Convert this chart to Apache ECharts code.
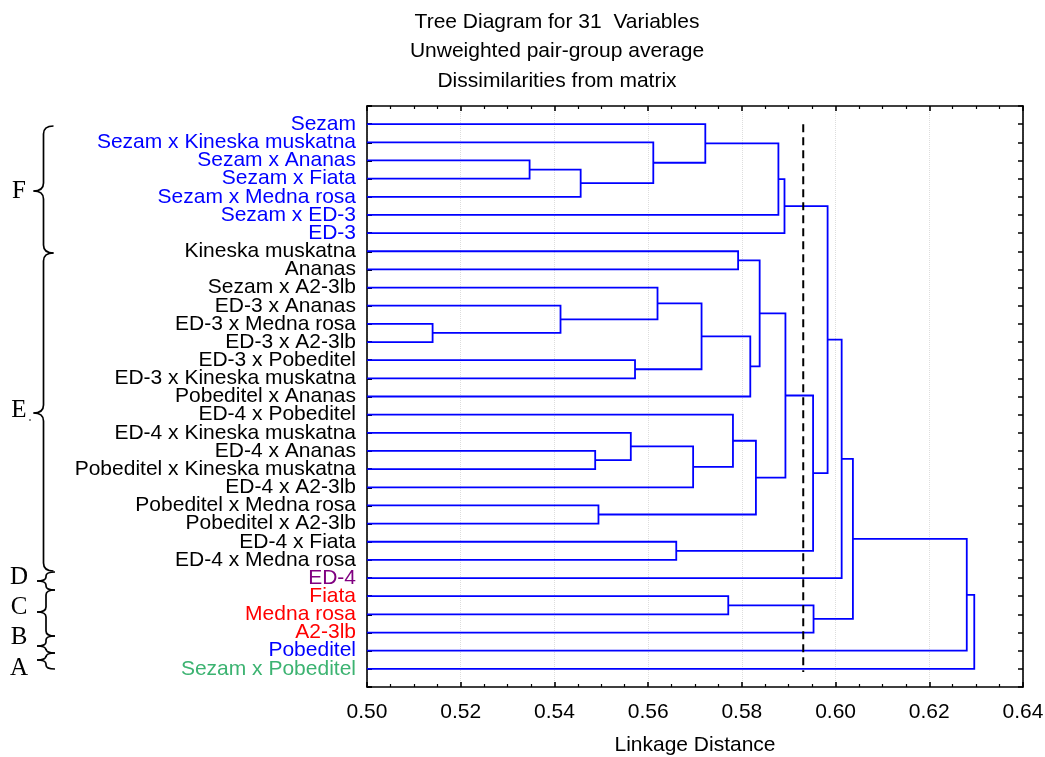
<!DOCTYPE html>
<html>
<head>
<meta charset="utf-8">
<script src="https://cdn.jsdelivr.net/npm/echarts@6.0.0/dist/echarts.min.js"></script>
<style>
  html, body { margin: 0; padding: 0; background: #fff; }
  #chart { width: 1045px; height: 757px; }
</style>
</head>
<body>
<div id="chart"></div>
<script>
// Leaves of the dendrogram, top to bottom
const leafNames = [
  'Sezam', 'Sezam x Kineska muskatna', 'Sezam x Ananas', 'Sezam x Fiata',
  'Sezam x Medna rosa', 'Sezam x ED-3', 'ED-3', 'Kineska muskatna', 'Ananas',
  'Sezam x A2-3lb', 'ED-3 x Ananas', 'ED-3 x Medna rosa', 'ED-3 x A2-3lb',
  'ED-3 x Pobeditel', 'ED-3 x Kineska muskatna', 'Pobeditel x Ananas',
  'ED-4 x Pobeditel', 'ED-4 x Kineska muskatna', 'ED-4 x Ananas',
  'Pobeditel x Kineska muskatna', 'ED-4 x A2-3lb', 'Pobeditel x Medna rosa',
  'Pobeditel x A2-3lb', 'ED-4 x Fiata', 'ED-4 x Medna rosa', 'ED-4', 'Fiata',
  'Medna rosa', 'A2-3lb', 'Pobeditel', 'Sezam x Pobeditel'
];

// Group letter of each leaf
const leafGroups = [
  'F', 'F', 'F', 'F', 'F', 'F', 'F',
  'E', 'E', 'E', 'E', 'E', 'E', 'E', 'E', 'E', 'E', 'E', 'E', 'E', 'E', 'E', 'E', 'E', 'E',
  'D', 'C', 'C', 'C', 'B', 'A'
];

// Agglomeration steps: cluster ids 0..30 are leaves, id 31 + k is the k-th merge
const mergeA = [11, 2, 10, 32, 18, 21, 17, 13, 1, 9, 23, 37, 40, 0, 26,
                16, 7, 43, 46, 47, 44, 51, 50, 53, 45, 52, 56, 57, 58, 59];
const mergeB = [12, 3, 31, 4, 19, 22, 35, 14, 34, 33, 24, 20, 38, 39, 27,
                42, 8, 15, 36, 48, 5, 6, 49, 41, 28, 54, 25, 55, 29, 30];
const mergeHeight = [0.5140, 0.5347, 0.5413, 0.5456, 0.5487, 0.5494, 0.5563, 0.5572,
                     0.5611, 0.5620, 0.5660, 0.5696, 0.5714, 0.5722, 0.5771, 0.5781,
                     0.5792, 0.5818, 0.5830, 0.5838, 0.5878, 0.5891, 0.5893, 0.5952,
                     0.5953, 0.5983, 0.6013, 0.6037, 0.6280, 0.6296];

// Cut level drawn as a dashed reference line
const cutLevel = 0.5931;

// Axis ticks
const distMin = 0.50, distMax = 0.64, distStep = 0.02;

const groupColors = { F: '#0000ff', E: '#000000', D: '#800080', C: '#ff0000', B: '#0000ff', A: '#3cb371' };

// Position of every cluster: leaves sit at 1..31, merged clusters at their children's mid-point
const nodeX = leafNames.map(() => distMin);
const nodeY = leafNames.map((_, i) => i + 1);
const links = [];
mergeA.forEach((a, k) => {
  const b = mergeB[k], h = mergeHeight[k];
  links.push([nodeX[a], nodeY[a], nodeX[b], nodeY[b], h]);
  nodeX.push(h);
  nodeY.push((nodeY[a] + nodeY[b]) / 2);
});

const FONT = "'Liberation Sans', Arial, sans-serif";
const SERIF = "'Liberation Serif', 'Times New Roman', serif";

// Group braces down the left margin
const braces = [
  { letter: 'F', top: 126, bottom: 253, tip: 191, textY: 191, x: 43.5, w: 10, r: 8 },
  { letter: 'E', top: 253, bottom: 571, tip: 413, textY: 410, x: 43.5, w: 10, r: 8, dot: true },
  { letter: 'D', top: 572, bottom: 590, tip: 581, textY: 577, x: 46, w: 9, r: 4 },
  { letter: 'C', top: 590, bottom: 636, tip: 612, textY: 607, x: 46, w: 9, r: 5 },
  { letter: 'B', top: 636, bottom: 653, tip: 646, textY: 637, x: 46, w: 9, r: 4 },
  { letter: 'A', top: 653, bottom: 669, tip: 660, textY: 668, x: 46, w: 9, r: 4 }
];

function braceElements(b) {
  const st = { stroke: '#000', lineWidth: 1.7, fill: null };
  const x = b.x, w = b.w, r = b.r;
  const els = [
    { type: 'bezierCurve', shape: { x1: x + w, y1: b.top, cpx1: x, cpy1: b.top, x2: x, y2: b.top + r }, style: st },
    { type: 'line', shape: { x1: x, y1: b.top + r, x2: x, y2: b.tip - r }, style: st },
    { type: 'bezierCurve', shape: { x1: x, y1: b.tip - r, cpx1: x, cpy1: b.tip, x2: x - w, y2: b.tip }, style: st },
    { type: 'bezierCurve', shape: { x1: x - w, y1: b.tip, cpx1: x, cpy1: b.tip, x2: x, y2: b.tip + r }, style: st },
    { type: 'line', shape: { x1: x, y1: b.tip + r, x2: x, y2: b.bottom - r }, style: st },
    { type: 'bezierCurve', shape: { x1: x, y1: b.bottom - r, cpx1: x, cpy1: b.bottom, x2: x + w, y2: b.bottom }, style: st },
    { type: 'text', x: 19, y: b.textY, style: { text: b.letter, font: '25px ' + SERIF, fill: '#000', align: 'center', verticalAlign: 'middle' } }
  ];
  if (b.dot) {
    els.push({ type: 'circle', shape: { cx: 30, cy: b.textY + 10, r: 0.8 }, style: { fill: '#000' } });
  }
  return els;
}

const titleLines = ['Tree Diagram for 31  Variables', 'Unweighted pair-group average', 'Dissimilarities from matrix'];

const graphics = [];
titleLines.forEach((t, i) => {
  graphics.push({
    type: 'text', x: 557, y: 22 + i * 29.5,
    style: { text: t, font: '21px ' + FONT, fill: '#000', align: 'center', verticalAlign: 'middle' }
  });
});
braces.forEach(b => braceElements(b).forEach(e => graphics.push(e)));

const chart = echarts.init(document.getElementById('chart'), null, { renderer: 'canvas' });

const axisLineStyle = { color: '#000', width: 1.6 };

chart.setOption({
  animation: false,
  backgroundColor: '#fff',
  grid: { left: 367, right: 22, top: 106, bottom: 70, containLabel: false, outerBoundsMode: 'none' },
  xAxis: [
    {
      type: 'value', position: 'bottom', min: distMin, max: distMax, interval: distStep,
      axisLine: { show: true, onZero: false, lineStyle: axisLineStyle },
      axisTick: { show: true, inside: true, length: 5, lineStyle: axisLineStyle },
      minorTick: { show: true, splitNumber: 4, length: 3, lineStyle: { color: '#000', width: 1.2 } },
      axisLabel: { formatter: v => v.toFixed(2), color: '#000', fontSize: 21, fontFamily: FONT, margin: 15 },
      splitLine: { show: true, lineStyle: { color: '#dddddd', type: 'dotted', width: 1 } },
      name: 'Linkage Distance', nameLocation: 'middle', nameGap: 48,
      nameTextStyle: { color: '#000', fontSize: 21, fontFamily: FONT }
    },
    {
      type: 'value', position: 'top', min: distMin, max: distMax, interval: distStep,
      axisLine: { show: true, onZero: false, lineStyle: axisLineStyle },
      axisTick: { show: true, inside: true, length: 5, lineStyle: axisLineStyle },
      minorTick: { show: true, splitNumber: 4, length: 3, lineStyle: { color: '#000', width: 1.2 } },
      axisLabel: { show: false },
      splitLine: { show: false }
    }
  ],
  yAxis: [
    {
      type: 'value', position: 'left', min: 0, max: leafNames.length + 1, interval: 1, inverse: true,
      axisLine: { show: true, onZero: false, lineStyle: axisLineStyle },
      axisTick: { show: true, inside: true, length: 5, lineStyle: { color: '#000', width: 2 } },
      axisLabel: {
        formatter: v => leafNames[v - 1] || '',
        color: v => groupColors[leafGroups[Number(v) - 1]] || '#000',
        fontSize: 21, fontFamily: FONT, margin: 11
      },
      splitLine: { show: false }
    },
    {
      type: 'value', position: 'right', min: 0, max: leafNames.length + 1, interval: 1, inverse: true,
      axisLine: { show: true, onZero: false, lineStyle: axisLineStyle },
      axisTick: { show: true, inside: true, length: 5, lineStyle: { color: '#000', width: 1.5 } },
      axisLabel: { show: false },
      splitLine: { show: false }
    }
  ],
  series: [
    {
      name: 'tree', type: 'custom', xAxisIndex: 0, yAxisIndex: 0,
      encode: { x: [0, 2, 4], y: [1, 3] },
      data: links,
      renderItem: (params, api) => {
        const p1 = api.coord([api.value(0), api.value(1)]);
        const p2 = api.coord([api.value(4), api.value(1)]);
        const p3 = api.coord([api.value(4), api.value(3)]);
        const p4 = api.coord([api.value(2), api.value(3)]);
        return {
          type: 'polyline',
          shape: { points: [p1, p2, p3, p4] },
          style: { stroke: '#0000ff', lineWidth: 1.8, fill: null }
        };
      }
    },
    {
      name: 'cut', type: 'line', xAxisIndex: 0, yAxisIndex: 0,
      data: [[cutLevel, 1], [cutLevel, 31.17]],
      symbol: 'none',
      lineStyle: { color: '#000', width: 2, type: [8, 5] },
      z: 3
    }
  ],
  graphic: graphics
});
</script>
</body>
</html>
